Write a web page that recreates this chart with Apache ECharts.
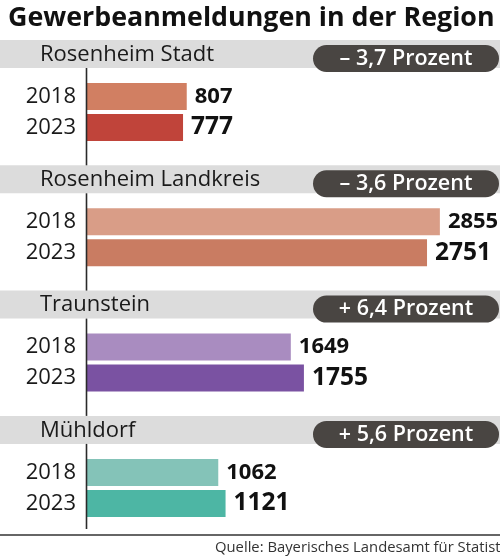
<!DOCTYPE html>
<html>
<head>
<meta charset="utf-8">
<script src="https://cdn.jsdelivr.net/npm/echarts@6/dist/echarts.min.js"></script>
<style>
html,body{margin:0;padding:0;background:#fff;}
#chart{width:500px;height:559px;}
</style>
</head>
<body>
<div id="chart"></div>
<script>
const titleText = 'Gewerbeanmeldungen in der Region';
const sourceText = 'Quelle: Bayerisches Landesamt für Statistik';
const regions = ['Rosenheim Stadt', 'Rosenheim Landkreis', 'Traunstein', 'Mühldorf'];
const years = ['2018', '2023'];
const values2018 = [807, 2855, 1649, 1062];
const values2023 = [777, 2751, 1755, 1121];
const changes = ['– 3,7 Prozent', '– 3,6 Prozent', '+ 6,4 Prozent', '+ 5,6 Prozent'];

const colors2018 = ['#d17f62', '#d99d87', '#a98cc0', '#84c3b8'];
const colors2023 = ['#c0443a', '#c97c62', '#7a52a2', '#4db6a4'];

const FONT = 'Open Sans';
const STEP = 125.3;
const AXIS_X = 87;
const PX_PER_UNIT = 0.1236;
const XMAX = 3000;

const grids = [], xAxes = [], yAxes = [], series = [], graphics = [];

regions.forEach((name, i) => {
  const bandTop = 40 + STEP * i;
  graphics.push({
    type: 'rect', shape: {x: 0, y: bandTop, width: 500, height: 28},
    style: {fill: '#dcdcdc'}, z: 1
  });
  graphics.push({
    type: 'text', x: 40, y: bandTop + 14.5,
    style: {text: name, font: '22px "' + FONT + '"', fill: '#1a1a1a', textVerticalAlign: 'middle'}, z: 3
  });
  graphics.push({
    type: 'rect', shape: {x: 313, y: bandTop + 5, width: 186, height: 27, r: 13.5},
    style: {fill: '#494542'}, z: 2
  });
  graphics.push({
    type: 'text', x: 406, y: bandTop + 18.5,
    style: {text: changes[i], font: '600 21.5px "' + FONT + '"', fill: '#ffffff', textAlign: 'center', textVerticalAlign: 'middle'}, z: 3
  });
  const lineEnd = i < regions.length - 1 ? bandTop + STEP : 529;
  graphics.push({
    type: 'line', shape: {x1: AXIS_X - 0.5, y1: bandTop + 28, x2: AXIS_X - 0.5, y2: lineEnd},
    style: {stroke: '#2a2a2a', lineWidth: 1.6}, z: 3
  });

  grids.push({left: AXIS_X, top: 81 + STEP * i, width: XMAX * PX_PER_UNIT, height: 62, containLabel: false});
  xAxes.push({type: 'value', gridIndex: i, min: 0, max: XMAX, show: false});
  yAxes.push({
    type: 'category', gridIndex: i, data: years, inverse: true,
    axisLine: {show: false}, axisTick: {show: false}, splitLine: {show: false},
    axisLabel: {margin: 11, fontFamily: FONT, fontSize: 22, color: '#1a1a1a'}
  });
  series.push({
    type: 'bar', xAxisIndex: i, yAxisIndex: i, barWidth: 27,
    data: [
      {value: values2018[i], itemStyle: {color: colors2018[i]}},
      {value: values2023[i], itemStyle: {color: colors2023[i]}}
    ],
    label: {
      show: true, position: 'right', distance: 8,
      formatter: p => (p.dataIndex === 0 ? '{s|' : '{l|') + p.value + '}',
      rich: {
        s: {fontFamily: FONT, fontWeight: 'bold', fontSize: 22, color: '#111'},
        l: {fontFamily: FONT, fontWeight: 'bold', fontSize: 24.5, color: '#111'}
      }
    },
    silent: true, animation: false
  });
});

graphics.push({
  type: 'text', x: 8, y: 18,
  style: {text: titleText, font: 'bold 26.8px "' + FONT + '"', fill: '#111', textVerticalAlign: 'middle'}
});
graphics.push({
  type: 'line', shape: {x1: 0, y1: 535, x2: 500, y2: 535},
  style: {stroke: '#333', lineWidth: 1.5}
});
graphics.push({
  type: 'text', x: 215, y: 548,
  style: {text: sourceText, font: '14.8px "' + FONT + '"', fill: '#333', textVerticalAlign: 'middle'}
});

const chart = echarts.init(document.getElementById('chart'), null, {renderer: 'canvas'});
chart.setOption({
  animation: false,
  grid: grids, xAxis: xAxes, yAxis: yAxes, series: series,
  graphic: graphics
});
</script>
</body>
</html>
